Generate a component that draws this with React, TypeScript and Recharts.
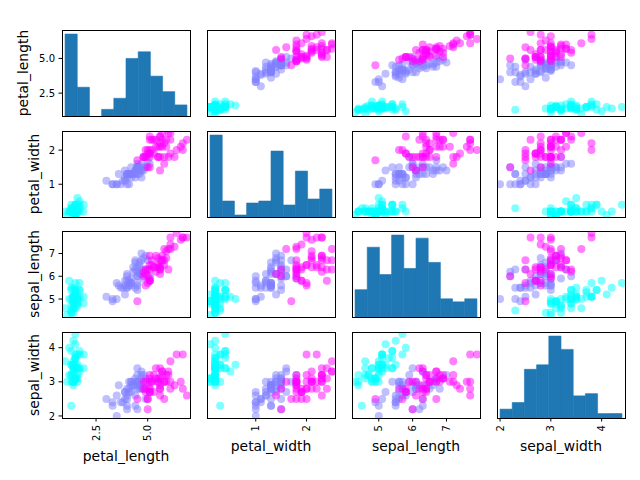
import { ReferenceArea, Scatter, ScatterChart, XAxis, YAxis } from 'recharts'

const variables = ['petal_length', 'petal_width', 'sepal_length', 'sepal_width']

const speciesNames = ['setosa', 'versicolor', 'virginica']
const speciesCounts = [50, 50, 50]
const speciesColors = ['#00ffff', '#8080ff', '#ff00ff']

// rows are in species order: setosa, versicolor, virginica
const sepalLength = [
  5.1, 4.9, 4.7, 4.6, 5.0, 5.4, 4.6, 5.0, 4.4, 4.9, 5.4, 4.8, 4.8, 4.3, 5.8, 5.7, 5.4, 5.1, 5.7, 5.1,
  5.4, 5.1, 4.6, 5.1, 4.8, 5.0, 5.0, 5.2, 5.2, 4.7, 4.8, 5.4, 5.2, 5.5, 4.9, 5.0, 5.5, 4.9, 4.4, 5.1,
  5.0, 4.5, 4.4, 5.0, 5.1, 4.8, 5.1, 4.6, 5.3, 5.0,
  7.0, 6.4, 6.9, 5.5, 6.5, 5.7, 6.3, 4.9, 6.6, 5.2, 5.0, 5.9, 6.0, 6.1, 5.6, 6.7, 5.6, 5.8, 6.2, 5.6,
  5.9, 6.1, 6.3, 6.1, 6.4, 6.6, 6.8, 6.7, 6.0, 5.7, 5.5, 5.5, 5.8, 6.0, 5.4, 6.0, 6.7, 6.3, 5.6, 5.5,
  5.5, 6.1, 5.8, 5.0, 5.6, 5.7, 5.7, 6.2, 5.1, 5.7,
  6.3, 5.8, 7.1, 6.3, 6.5, 7.6, 4.9, 7.3, 6.7, 7.2, 6.5, 6.4, 6.8, 5.7, 5.8, 6.4, 6.5, 7.7, 7.7, 6.0,
  6.9, 5.6, 7.7, 6.3, 6.7, 7.2, 6.2, 6.1, 6.4, 7.2, 7.4, 7.9, 6.4, 6.3, 6.1, 7.7, 6.3, 6.4, 6.0, 6.9,
  6.7, 6.9, 5.8, 6.8, 6.7, 6.7, 6.3, 6.5, 6.2, 5.9,
]
const sepalWidth = [
  3.5, 3.0, 3.2, 3.1, 3.6, 3.9, 3.4, 3.4, 2.9, 3.1, 3.7, 3.4, 3.0, 3.0, 4.0, 4.4, 3.9, 3.5, 3.8, 3.8,
  3.4, 3.7, 3.6, 3.3, 3.4, 3.0, 3.4, 3.5, 3.4, 3.2, 3.1, 3.4, 4.1, 4.2, 3.1, 3.2, 3.5, 3.1, 3.0, 3.4,
  3.5, 2.3, 3.2, 3.5, 3.8, 3.0, 3.8, 3.2, 3.7, 3.3,
  3.2, 3.2, 3.1, 2.3, 2.8, 2.8, 3.3, 2.4, 2.9, 2.7, 2.0, 3.0, 2.2, 2.9, 2.9, 3.1, 3.0, 2.7, 2.2, 2.5,
  3.2, 2.8, 2.5, 2.8, 2.9, 3.0, 2.8, 3.0, 2.9, 2.6, 2.4, 2.4, 2.7, 2.7, 3.0, 3.4, 3.1, 2.3, 3.0, 2.5,
  2.6, 3.0, 2.6, 2.3, 2.7, 3.0, 2.9, 2.9, 2.5, 2.8,
  3.3, 2.7, 3.0, 2.9, 3.0, 3.0, 2.5, 2.9, 2.5, 3.6, 3.2, 2.7, 3.0, 2.5, 2.8, 3.2, 3.0, 3.8, 2.6, 2.2,
  3.2, 2.8, 2.8, 2.7, 3.3, 3.2, 2.8, 3.0, 2.8, 3.0, 2.8, 3.8, 2.8, 2.8, 2.6, 3.0, 3.4, 3.1, 3.0, 3.1,
  3.1, 3.1, 2.7, 3.2, 3.3, 3.0, 2.5, 3.0, 3.4, 3.0,
]
const petalLength = [
  1.4, 1.4, 1.3, 1.5, 1.4, 1.7, 1.4, 1.5, 1.4, 1.5, 1.5, 1.6, 1.4, 1.1, 1.2, 1.5, 1.3, 1.4, 1.7, 1.5,
  1.7, 1.5, 1.0, 1.7, 1.9, 1.6, 1.6, 1.5, 1.4, 1.6, 1.6, 1.5, 1.5, 1.4, 1.5, 1.2, 1.3, 1.5, 1.3, 1.5,
  1.3, 1.3, 1.3, 1.6, 1.9, 1.4, 1.6, 1.4, 1.5, 1.4,
  4.7, 4.5, 4.9, 4.0, 4.6, 4.5, 4.7, 3.3, 4.6, 3.9, 3.5, 4.2, 4.0, 4.7, 3.6, 4.4, 4.5, 4.1, 4.5, 3.9,
  4.8, 4.0, 4.9, 4.7, 4.3, 4.4, 4.8, 5.0, 4.5, 3.5, 3.8, 3.7, 3.9, 5.1, 4.5, 4.5, 4.7, 4.4, 4.1, 4.0,
  4.4, 4.6, 4.0, 3.3, 4.2, 4.2, 4.2, 4.3, 3.0, 4.1,
  6.0, 5.1, 5.9, 5.6, 5.8, 6.6, 4.5, 6.3, 5.8, 6.1, 5.1, 5.3, 5.5, 5.0, 5.1, 5.3, 5.5, 6.7, 6.9, 5.0,
  5.7, 4.9, 6.7, 4.9, 5.7, 6.0, 4.8, 4.9, 5.6, 5.8, 6.1, 6.4, 5.6, 5.1, 5.6, 6.1, 5.6, 5.5, 4.8, 5.4,
  5.6, 5.1, 5.1, 5.9, 5.7, 5.2, 5.0, 5.2, 5.4, 5.1,
]
const petalWidth = [
  0.2, 0.2, 0.2, 0.2, 0.2, 0.4, 0.3, 0.2, 0.2, 0.1, 0.2, 0.2, 0.1, 0.1, 0.2, 0.4, 0.4, 0.3, 0.3, 0.3,
  0.2, 0.4, 0.2, 0.5, 0.2, 0.2, 0.4, 0.2, 0.2, 0.2, 0.2, 0.4, 0.1, 0.2, 0.1, 0.2, 0.2, 0.1, 0.2, 0.2,
  0.3, 0.3, 0.2, 0.6, 0.4, 0.3, 0.2, 0.2, 0.2, 0.2,
  1.4, 1.5, 1.5, 1.3, 1.5, 1.3, 1.6, 1.0, 1.3, 1.4, 1.0, 1.5, 1.0, 1.4, 1.3, 1.4, 1.5, 1.0, 1.5, 1.1,
  1.8, 1.3, 1.5, 1.2, 1.3, 1.4, 1.4, 1.7, 1.5, 1.0, 1.1, 1.0, 1.2, 1.6, 1.5, 1.6, 1.5, 1.3, 1.3, 1.3,
  1.2, 1.4, 1.2, 1.0, 1.3, 1.2, 1.3, 1.3, 1.1, 1.3,
  2.5, 1.9, 2.1, 1.8, 2.2, 2.1, 1.7, 1.8, 1.8, 2.5, 2.0, 1.9, 2.1, 2.0, 2.4, 2.3, 1.8, 2.2, 2.3, 1.5,
  2.3, 2.0, 2.0, 1.8, 2.1, 1.8, 1.8, 1.8, 2.1, 1.6, 1.9, 2.0, 2.2, 1.5, 1.4, 2.3, 2.4, 1.8, 1.8, 2.1,
  2.4, 2.3, 1.9, 2.3, 2.5, 2.3, 1.9, 2.0, 2.3, 1.8,
]

// 10-bin histograms on the diagonal
const petalLengthBinEdges = [1.0, 1.59, 2.18, 2.77, 3.36, 3.95, 4.54, 5.13, 5.72, 6.31, 6.9]
const petalLengthCounts = [37, 13, 0, 3, 8, 26, 29, 18, 11, 5]
const petalWidthBinEdges = [0.1, 0.34, 0.58, 0.82, 1.06, 1.3, 1.54, 1.78, 2.02, 2.26, 2.5]
const petalWidthCounts = [41, 8, 1, 7, 8, 33, 6, 23, 9, 14]
const sepalLengthBinEdges = [4.3, 4.66, 5.02, 5.38, 5.74, 6.1, 6.46, 6.82, 7.18, 7.54, 7.9]
const sepalLengthCounts = [9, 23, 14, 27, 16, 26, 18, 6, 5, 6]
const sepalWidthBinEdges = [2.0, 2.24, 2.48, 2.72, 2.96, 3.2, 3.44, 3.68, 3.92, 4.16, 4.4]
const sepalWidthCounts = [4, 7, 22, 24, 37, 31, 10, 11, 2, 2]

const petalLengthTicks = [2.5, 5.0]
const petalLengthTickLabels = ['2.5', '5.0']
const petalWidthTicks = [1, 2]
const petalWidthTickLabels = ['1', '2']
const sepalLengthTicks = [5, 6, 7]
const sepalLengthTickLabels = ['5', '6', '7']
const sepalWidthTicks = [2, 3, 4]
const sepalWidthTickLabels = ['2', '3', '4']

const columns: Record<string, number[]> = {
  petal_length: petalLength,
  petal_width: petalWidth,
  sepal_length: sepalLength,
  sepal_width: sepalWidth,
}
const bins: Record<string, { edges: number[]; counts: number[] }> = {
  petal_length: { edges: petalLengthBinEdges, counts: petalLengthCounts },
  petal_width: { edges: petalWidthBinEdges, counts: petalWidthCounts },
  sepal_length: { edges: sepalLengthBinEdges, counts: sepalLengthCounts },
  sepal_width: { edges: sepalWidthBinEdges, counts: sepalWidthCounts },
}
const ticks: Record<string, { values: number[]; labels: string[] }> = {
  petal_length: { values: petalLengthTicks, labels: petalLengthTickLabels },
  petal_width: { values: petalWidthTicks, labels: petalWidthTickLabels },
  sepal_length: { values: sepalLengthTicks, labels: sepalLengthTickLabels },
  sepal_width: { values: sepalWidthTicks, labels: sepalWidthTickLabels },
}

// grid layout
const PLOT_W = 128
const PLOT_H = 86
const colLeft = [62, 207, 352, 497]
const rowTop = [30, 131, 231, 332]
const Y_AXIS_W = 62
const X_AXIS_H = 62
const SIDE_PAD = 10 // room for tick labels that hang past the plot edge
// where the axis titles sit: wider tick labels push them further out
const yTitleX: Record<string, number> = { petal_length: 27.5, petal_width: 38.5, sepal_length: 38.5, sepal_width: 38.5 }
const xTitleGap: Record<string, number> = { petal_length: 43, petal_width: 33, sepal_length: 33, sepal_width: 33 }

const BAR_COLOR = '#1f77b4'
const TICK_FONT = 10
const TITLE_FONT = 13.9

// limits padded by 2.5% on both ends
const paddedDomain = (vals: number[]): [number, number] => {
  const lo = Math.min(...vals)
  const hi = Math.max(...vals)
  const ext = (hi - lo) * 0.025
  return [lo - ext, hi + ext]
}

const pointsBySpecies = (xVar: string, yVar: string) => {
  const xs = columns[xVar]
  const ys = columns[yVar]
  let start = 0
  return speciesCounts.map((n) => {
    const pts = []
    for (let i = start; i < start + n; i++) pts.push({ x: xs[i], y: ys[i] })
    start += n
    return pts
  })
}

function XTick(props: any) {
  const { x, y, payload, info } = props
  const label = info.labels[info.values.indexOf(payload.value)]
  return (
    <text
      x={x}
      y={y}
      transform={`rotate(-90, ${x}, ${y})`}
      textAnchor="end"
      dominantBaseline="central"
      fontSize={TICK_FONT}
      fill="#000"
    >
      {label}
    </text>
  )
}

function AxisTitle({ tx, ty, text, vertical }: { tx: number; ty: number; text: string; vertical?: boolean }) {
  return (
    <text
      x={tx}
      y={ty}
      transform={vertical ? `rotate(-90, ${tx}, ${ty})` : undefined}
      textAnchor="middle"
      fontSize={TITLE_FONT}
      fill="#000"
    >
      {text}
    </text>
  )
}

function Cell({ row, col }: { row: number; col: number }) {
  const xVar = variables[col]
  const yVar = variables[row]
  const showY = col === 0
  const showX = row === variables.length - 1
  const diagonal = row === col
  const padLeft = showY ? 0 : SIDE_PAD
  const offsetX = (showY ? Y_AXIS_W : 0) + padLeft
  const width = PLOT_W + offsetX + SIDE_PAD
  const height = PLOT_H + (showX ? X_AXIS_H : 0)
  const xDomain = paddedDomain(columns[xVar])
  const yDomain = paddedDomain(columns[yVar])
  const hist = bins[xVar]
  const xInfo = ticks[xVar]
  const yInfo = ticks[yVar]

  return (
    <>
      <div style={{ position: 'absolute', left: colLeft[col] - offsetX, top: rowTop[row] }}>
        <ScatterChart
          width={width}
          height={height}
          margin={{ top: 0, right: SIDE_PAD, bottom: 0, left: padLeft }}
        >
          <XAxis
            type="number"
            dataKey="x"
            domain={xDomain}
            allowDataOverflow
            ticks={xInfo.values}
            interval={0}
            hide={!showX}
            height={X_AXIS_H}
            axisLine={false}
            tickLine={{ stroke: '#000' }}
            tickSize={3.5}
            tickMargin={3.5}
            tick={(p: any) => <XTick {...p} info={xInfo} />}
            label={
              <AxisTitle tx={offsetX + PLOT_W / 2} ty={PLOT_H + xTitleGap[xVar]} text={xVar} />
            }
          />
          <YAxis
            yAxisId="v"
            type="number"
            dataKey="y"
            domain={yDomain}
            allowDataOverflow
            ticks={yInfo.values}
            interval={0}
            hide={!showY}
            width={Y_AXIS_W}
            axisLine={false}
            tickLine={{ stroke: '#000' }}
            tickSize={3.5}
            tickMargin={3.5}
            tick={{ fontSize: TICK_FONT, fill: '#000' }}
            tickFormatter={(v: number) => yInfo.labels[yInfo.values.indexOf(v)]}
            label={<AxisTitle tx={yTitleX[yVar]} ty={PLOT_H / 2} text={yVar} vertical />}
          />
          {diagonal && (
            <YAxis
              yAxisId="count"
              orientation="right"
              type="number"
              domain={[0, Math.max(...hist.counts) * 1.05]}
              allowDataOverflow
              hide
            />
          )}
          {diagonal
            ? hist.counts.map((c, i) => (
                <ReferenceArea
                  key={i}
                  yAxisId="count"
                  x1={hist.edges[i]}
                  x2={hist.edges[i + 1]}
                  y1={0}
                  y2={c}
                  fill={BAR_COLOR}
                  fillOpacity={1}
                  stroke={BAR_COLOR}
                  strokeWidth={0.6}
                  ifOverflow="visible"
                />
              ))
            : pointsBySpecies(xVar, yVar).map((pts, s) => (
                <Scatter
                  key={speciesNames[s]}
                  name={speciesNames[s]}
                  yAxisId="v"
                  data={pts}
                  isAnimationActive={false}
                  shape={(p: any) => (
                    <circle cx={p.cx} cy={p.cy} r={4} fill={speciesColors[s]} fillOpacity={0.5} />
                  )}
                />
              ))}
        </ScatterChart>
      </div>
      <div
        style={{
          position: 'absolute',
          left: colLeft[col],
          top: rowTop[row],
          width: PLOT_W + 1,
          height: PLOT_H + 1,
          border: '1px solid #000',
          boxSizing: 'border-box',
          pointerEvents: 'none',
        }}
      />
    </>
  )
}

export default function App() {
  return (
    <div
      style={{
        position: 'absolute',
        left: 0,
        top: 0,
        width: 640,
        height: 480,
        overflow: 'hidden',
        background: '#fff',
        fontFamily: '"DejaVu Sans", sans-serif',
      }}
    >
      {variables.map((_, r) => variables.map((_, c) => <Cell key={`${r}-${c}`} row={r} col={c} />))}
    </div>
  )
}
